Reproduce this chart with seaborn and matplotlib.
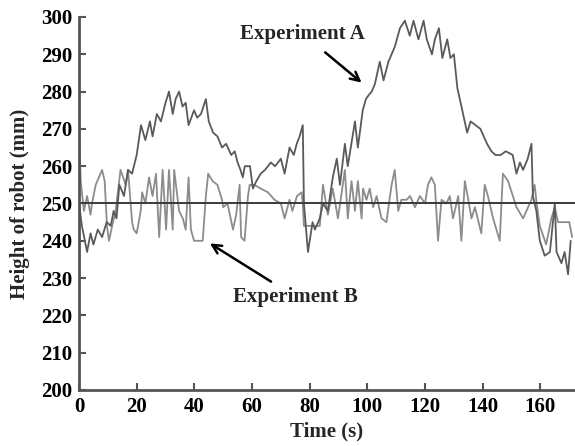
import numpy as np
import pandas as pd
import matplotlib
matplotlib.use("Agg")
import matplotlib.pyplot as plt
import seaborn as sns

# Experiment A (darker trace)
t_a = [0, 1, 2.8, 4, 5, 6.5, 8, 9.6, 11, 12, 13, 14, 15.6, 17, 18.4, 20, 21.5, 23, 24.6, 25.5,
       27, 28.4, 30, 31.2, 32.5, 33.5, 34.7, 35.9, 37, 38, 39.9, 41, 42.3, 44, 45, 46.5, 48, 49.6,
       51, 52.8, 54, 55, 56, 56.8, 57.5, 59.3, 60.3, 61.5, 63, 64.5, 66.5, 68, 70, 71.3, 73, 74.5,
       75.5, 76.5, 77.6, 78, 79.4, 81, 81.8, 83.5, 84.6, 86.3, 88, 89.4, 90.5, 92.2, 93.2, 95.7,
       96.7, 98.4, 99.5, 100.4, 101.5, 102.6, 104.3, 105.6, 107.3, 109.5, 111.3, 113, 114.7, 116,
       117.7, 119.5, 120.6, 122.4, 123.4, 124.8, 126, 127.7, 128.8, 130, 131.2, 132.9, 134.6,
       135.8, 137.5, 139.2, 141.5, 143, 144.4, 146.2, 148, 150.4, 151.7, 152.9, 154, 155.6, 156.9,
       157.4, 158.6, 159.8, 161.5, 163.3, 165, 165.6, 167.3, 168.4, 169.6, 170.5]
a_vals = [250, 244, 237, 242, 239, 243, 241, 245, 244, 248, 246, 255, 252, 259, 258, 263, 271, 267,
          272, 268, 274, 272, 277, 280, 274, 278, 280, 276, 277, 271, 275, 273, 274, 278, 272, 269,
          268, 265, 266, 263, 264, 261, 259, 257, 260, 260, 254, 256, 258, 259, 261, 260, 262, 258,
          265, 263, 266, 268, 271, 250, 237, 245, 243, 246, 250, 248, 257, 262, 255, 266, 260, 272,
          265, 275, 278, 279, 280, 282, 288, 283, 288, 292, 297, 299, 295, 299, 294, 299, 294, 290,
          294, 297, 289, 294, 289, 290, 281, 275, 269, 272, 271, 270, 266, 264, 263, 263, 264, 263,
          258, 261, 259, 262, 266, 252, 248, 240, 236, 237, 250, 237, 234, 237, 231, 240]

# Experiment B (lighter trace)
t_b = [0, 0.6, 1.7, 2.8, 4, 4.5, 5.8, 8, 8.9, 9.7, 10.4, 11.5, 12.7, 14.4, 16.2, 17, 18.4, 19, 20,
       21.4, 21.9, 23, 24.3, 25.5, 26.7, 27.8, 29, 30.2, 31.2, 32.5, 33, 34.7, 36, 37, 38, 38.8,
       39.9, 42.9, 44, 44.8, 46.3, 48, 49.6, 50, 51.5, 53.4, 54.5, 55.7, 56.2, 57.4, 58.6, 59.2,
       60.8, 63, 65.5, 67.8, 70, 71.3, 73, 74, 75.6, 77.2, 77.6, 78, 83.5, 84.6, 86.3, 88, 89.8,
       92.2, 93.2, 94.5, 95.7, 96.7, 98, 98.5, 99.7, 100.8, 102, 103.2, 104.9, 106.6, 108.4, 109.5,
       110.7, 111.8, 113.6, 114.8, 116.5, 118.2, 120, 121, 122.2, 123.4, 124.5, 125.7, 127.4,
       128.6, 129.7, 131.5, 132.6, 133.8, 135, 136.1, 137.3, 139.5, 140.7, 141.8, 143.6, 145.9,
       147, 148.8, 151.7, 154, 156.9, 158, 158.7, 159.8, 162, 163.8, 165, 166.1, 170, 171]
b_vals = [270, 256, 248, 252, 247, 250, 255, 259, 256, 244, 240, 244, 248, 259, 255, 259, 245, 243,
          242, 248, 253, 250, 257, 252, 258, 241, 259, 243, 259, 243, 259, 248, 246, 243, 257, 243,
          240, 240, 252, 258, 256, 255, 251, 249, 250, 243, 247, 255, 241, 240, 252, 255, 255, 254,
          253, 251, 250, 246, 251, 248, 252, 253, 250, 244, 244, 255, 247, 254, 246, 259, 246, 256,
          248, 256, 246, 254, 251, 254, 249, 252, 246, 245, 255, 259, 248, 251, 251, 252, 249, 252,
          250, 255, 257, 255, 240, 251, 250, 252, 246, 252, 240, 256, 251, 246, 249, 242, 255, 252,
          246, 240, 258, 256, 249, 246, 251, 255, 250, 244, 239, 246, 249, 245, 245, 241]

x_ticks = [0, 20, 40, 60, 80, 100, 120, 140, 160]
y_ticks = [200, 210, 220, 230, 240, 250, 260, 270, 280, 290, 300]
reference_level = 250

sns.set_style("ticks")
plt.rcParams['font.family'] = ['Liberation Serif', 'DejaVu Serif']
plt.rcParams['font.weight'] = 'bold'

fig = plt.figure(figsize=(5.75, 4.46), dpi=100)
ax = fig.add_axes([0.1374, 0.1256, 0.8626, 0.8363])

df_a = pd.DataFrame({'t': t_a, 'h': a_vals})
df_b = pd.DataFrame({'t': t_b, 'h': b_vals})
sns.lineplot(data=df_b, x='t', y='h', ax=ax, color='#8c8c8c', linewidth=1.3)
sns.lineplot(data=df_a, x='t', y='h', ax=ax, color='#5a5a5a', linewidth=1.3)
ax.axhline(reference_level, color='#3a3a3a', linewidth=1.4)

ax.set_xlim(0, 172)
ax.set_ylim(200, 300)
ax.set_xticks(x_ticks)
ax.set_yticks(y_ticks)
ax.tick_params(direction='in', length=5, width=1.5, colors='#555555', labelcolor='black',
               labelsize=15, pad=5)
for lbl in ax.get_xticklabels() + ax.get_yticklabels():
    lbl.set_fontweight('bold')
sns.despine(ax=ax)
for s in ['left', 'bottom']:
    ax.spines[s].set_linewidth(2)
    ax.spines[s].set_color('#555555')

ax.set_xlabel('Time (s)', fontsize=15, fontweight='bold', labelpad=3)
ax.set_ylabel('Height of robot (mm)', fontsize=15, fontweight='bold', labelpad=8)

ax.annotate('Experiment A', xy=(98, 282.4), xytext=(77.6, 295.5), ha='center', va='center',
            fontsize=15, fontweight='bold',
            arrowprops=dict(arrowstyle='->', color='black', lw=1.8, shrinkA=6, shrinkB=0,
                            mutation_scale=16))
ax.annotate('Experiment B', xy=(45.4, 239.3), xytext=(75.2, 224.9), ha='center', va='center',
            fontsize=15, fontweight='bold',
            arrowprops=dict(arrowstyle='->', color='black', lw=1.8, shrinkA=3, shrinkB=0,
                            mutation_scale=16))

fig.savefig('out.png', dpi=100)
